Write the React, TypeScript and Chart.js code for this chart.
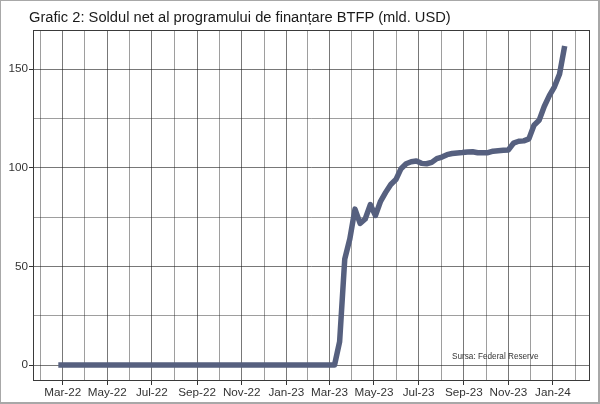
import React, { useEffect, useRef } from "react";
import { Chart, registerables } from "chart.js";
Chart.register(...registerables);

const TITLE = "Grafic 2: Soldul net al programului de finanțare BTFP (mld. USD)";
const SOURCE = "Sursa: Federal Reserve";

const dates: string[] = [
  "2022-02-23", "2022-03-02", "2022-03-09", "2022-03-16", "2022-03-23", "2022-03-30",
  "2022-04-06", "2022-04-13", "2022-04-20", "2022-04-27",
  "2022-05-04", "2022-05-11", "2022-05-18", "2022-05-25",
  "2022-06-01", "2022-06-08", "2022-06-15", "2022-06-22", "2022-06-29",
  "2022-07-06", "2022-07-13", "2022-07-20", "2022-07-27",
  "2022-08-03", "2022-08-10", "2022-08-17", "2022-08-24", "2022-08-31",
  "2022-09-07", "2022-09-14", "2022-09-21", "2022-09-28",
  "2022-10-05", "2022-10-12", "2022-10-19", "2022-10-26",
  "2022-11-02", "2022-11-09", "2022-11-16", "2022-11-23", "2022-11-30",
  "2022-12-07", "2022-12-14", "2022-12-21", "2022-12-28",
  "2023-01-04", "2023-01-11", "2023-01-18", "2023-01-25",
  "2023-02-01", "2023-02-08", "2023-02-15", "2023-02-22",
  "2023-03-01", "2023-03-08", "2023-03-15", "2023-03-22", "2023-03-29",
  "2023-04-05", "2023-04-12", "2023-04-19", "2023-04-26",
  "2023-05-03", "2023-05-10", "2023-05-17", "2023-05-24", "2023-05-31",
  "2023-06-07", "2023-06-14", "2023-06-21", "2023-06-28",
  "2023-07-05", "2023-07-12", "2023-07-19", "2023-07-26",
  "2023-08-02", "2023-08-09", "2023-08-16", "2023-08-23", "2023-08-30",
  "2023-09-06", "2023-09-13", "2023-09-20", "2023-09-27",
  "2023-10-04", "2023-10-11", "2023-10-18", "2023-10-25",
  "2023-11-01", "2023-11-08", "2023-11-15", "2023-11-22", "2023-11-29",
  "2023-12-06", "2023-12-13", "2023-12-20", "2023-12-27",
  "2024-01-03", "2024-01-10", "2024-01-17",
];

const values: number[] = [
  0, 0, 0, 0, 0, 0,
  0, 0, 0, 0,
  0, 0, 0, 0,
  0, 0, 0, 0, 0,
  0, 0, 0, 0,
  0, 0, 0, 0, 0,
  0, 0, 0, 0,
  0, 0, 0, 0,
  0, 0, 0, 0, 0,
  0, 0, 0, 0,
  0, 0, 0, 0,
  0, 0, 0, 0,
  0, 0, 11.9, 53.7, 64.0,
  79.0, 71.8, 74.0, 81.3,
  75.8, 83.0, 87.5, 91.5, 94.0,
  99.5, 102.0, 103.0, 103.4,
  102.2, 102.0, 102.7, 104.6,
  105.4, 106.6, 107.2, 107.5, 107.7,
  108.0, 108.1, 107.6, 107.6,
  107.6, 108.4, 108.6, 108.8,
  109.0, 112.5, 113.4, 113.6, 114.6,
  121.5, 124.0, 131.0, 136.5,
  141.0, 147.5, 161.7,
];

const xTickDates: string[] = [
  "2022-03-01", "2022-05-01", "2022-07-01", "2022-09-01", "2022-11-01", "2023-01-01",
  "2023-03-01", "2023-05-01", "2023-07-01", "2023-09-01", "2023-11-01", "2024-01-01",
];
const xTickLabels: string[] = [
  "Mar-22", "May-22", "Jul-22", "Sep-22", "Nov-22", "Jan-23",
  "Mar-23", "May-23", "Jul-23", "Sep-23", "Nov-23", "Jan-24",
];
const yMajorTicks: number[] = [0, 50, 100, 150];
const yMinorTicks: number[] = [25, 75, 125];

const SOURCE_DATE = "2023-10-14";
const SOURCE_VALUE = 4.4;

const FONT = "'Liberation Sans', Arial, sans-serif";
const LINE_COLOR = "#56607f";

const toDay = (s: string) => Date.parse(s + "T00:00:00Z") / 86400000;

export default function App() {
  const ref = useRef<HTMLCanvasElement>(null);

  useEffect(() => {
    if (!ref.current) return;
    const xs = dates.map(toDay);
    const pts = xs.map((x, i) => ({ x, y: values[i] }));
    const xFirst = xs[0];
    const xLast = xs[xs.length - 1];
    const xPad = (xLast - xFirst) * 0.05;
    const yHi = Math.max(...values);
    const yLo = Math.min(...values);
    const yPad = (yHi - yLo) * 0.05;

    const majors = xTickDates.map(toDay);
    const minors: number[] = [];
    for (let i = 0; i < majors.length - 1; i++) minors.push((majors[i] + majors[i + 1]) / 2);
    minors.unshift(majors[0] - (majors[1] - majors[0]) / 2);
    const n = majors.length;
    minors.push(majors[n - 1] + (majors[n - 1] - majors[n - 2]) / 2);

    const xTickObjs = [
      ...majors.map((v) => ({ value: v, isMajor: true })),
      ...minors.map((v) => ({ value: v, isMajor: false })),
    ].sort((a, b) => a.value - b.value);
    const yTickObjs = [
      ...yMajorTicks.map((v) => ({ value: v, isMajor: true })),
      ...yMinorTicks.map((v) => ({ value: v, isMajor: false })),
    ].sort((a, b) => a.value - b.value);

    const framePlugin = {
      id: "frame",
      afterDatasetsDraw(chart: any) {
        const { ctx, chartArea, scales } = chart;
        ctx.save();
        ctx.strokeStyle = "#3a3a3a";
        ctx.lineWidth = 1;
        ctx.strokeRect(
          Math.round(chartArea.left) + 0.5,
          Math.round(chartArea.top) + 0.5,
          Math.round(chartArea.right - chartArea.left) - 1,
          Math.round(chartArea.bottom - chartArea.top) - 1
        );
        ctx.fillStyle = "#333333";
        ctx.font = `8.2px ${FONT}`;
        ctx.textAlign = "center";
        ctx.textBaseline = "middle";
        ctx.fillText(
          SOURCE,
          scales.x.getPixelForValue(toDay(SOURCE_DATE)),
          scales.y.getPixelForValue(SOURCE_VALUE)
        );
        ctx.restore();
      },
    };

    const gridColor = (c: any) =>
      c.tick && c.tick.isMajor ? "rgba(30,30,30,0.6)" : "rgba(40,40,40,0.45)";
    const tickColor = (c: any) =>
      c.tick && c.tick.isMajor ? "#333333" : "rgba(0,0,0,0)";

    const chart = new Chart(ref.current, {
      type: "line",
      data: {
        datasets: [
          {
            data: pts,
            borderColor: LINE_COLOR,
            backgroundColor: LINE_COLOR,
            borderWidth: 5.5,
            pointRadius: 0,
            tension: 0,
            borderJoinStyle: "round",
            borderCapStyle: "butt",
            fill: false,
          },
        ],
      },
      options: {
        animation: false,
        responsive: false,
        maintainAspectRatio: false,
        layout: { padding: { left: 0, top: 30, right: 10, bottom: 0 } },
        plugins: {
          legend: { display: false },
          title: { display: false },
          tooltip: { enabled: false },
        },
        scales: {
          x: {
            type: "linear",
            min: xFirst - xPad,
            max: xLast + xPad,
            afterBuildTicks: (scale: any) => {
              scale.ticks = xTickObjs.map((t) => ({ ...t }));
            },
            afterFit: (scale: any) => {
              scale.height = 23;
            },
            border: { display: false },
            grid: {
              color: gridColor,
              lineWidth: 1,
              drawTicks: true,
              tickLength: 4,
              tickColor: tickColor,
              tickWidth: 1,
            },
            ticks: {
              autoSkip: false,
              maxRotation: 0,
              minRotation: 0,
              padding: 1,
              color: "#333333",
              font: { family: FONT, size: 11.7 },
              callback: (v: any) => {
                const idx = majors.indexOf(Number(v));
                return idx >= 0 ? xTickLabels[idx] : "";
              },
            },
          },
          y: {
            type: "linear",
            min: yLo - yPad,
            max: yHi + yPad,
            afterBuildTicks: (scale: any) => {
              scale.ticks = yTickObjs.map((t) => ({ ...t }));
            },
            afterFit: (scale: any) => {
              scale.width = 33;
            },
            border: { display: false },
            grid: {
              color: gridColor,
              lineWidth: 1,
              drawTicks: true,
              tickLength: 4,
              tickColor: tickColor,
              tickWidth: 1,
            },
            ticks: {
              padding: 1,
              color: "#333333",
              font: { family: FONT, size: 11.7 },
              callback: (v: any) => (yMajorTicks.includes(Number(v)) ? String(v) : ""),
            },
          },
        },
      },
      plugins: [framePlugin],
    } as any);

    return () => chart.destroy();
  }, []);

  return (
    <div
      style={{
        position: "absolute",
        left: 0,
        top: 0,
        width: 600,
        height: 404,
        background: "#ffffff",
        overflow: "hidden",
      }}
    >
      <canvas ref={ref} width={600} height={404} style={{ position: "absolute", left: 0, top: 0, width: 600, height: 404 }} />
      <div
        style={{
          position: "absolute",
          left: 29,
          top: 9,
          fontFamily: FONT,
          fontSize: 14.7,
          color: "#1a1a1a",
          whiteSpace: "nowrap",
          lineHeight: "normal",
        }}
      >
        {TITLE}
      </div>
      <div
        style={{
          position: "absolute",
          left: 0,
          top: 0,
          width: 600,
          height: 404,
          boxSizing: "border-box",
          border: "1px solid #a8a8a8",
          borderRightWidth: 2,
          borderBottomWidth: 2,
          pointerEvents: "none",
        }}
      />
    </div>
  );
}
